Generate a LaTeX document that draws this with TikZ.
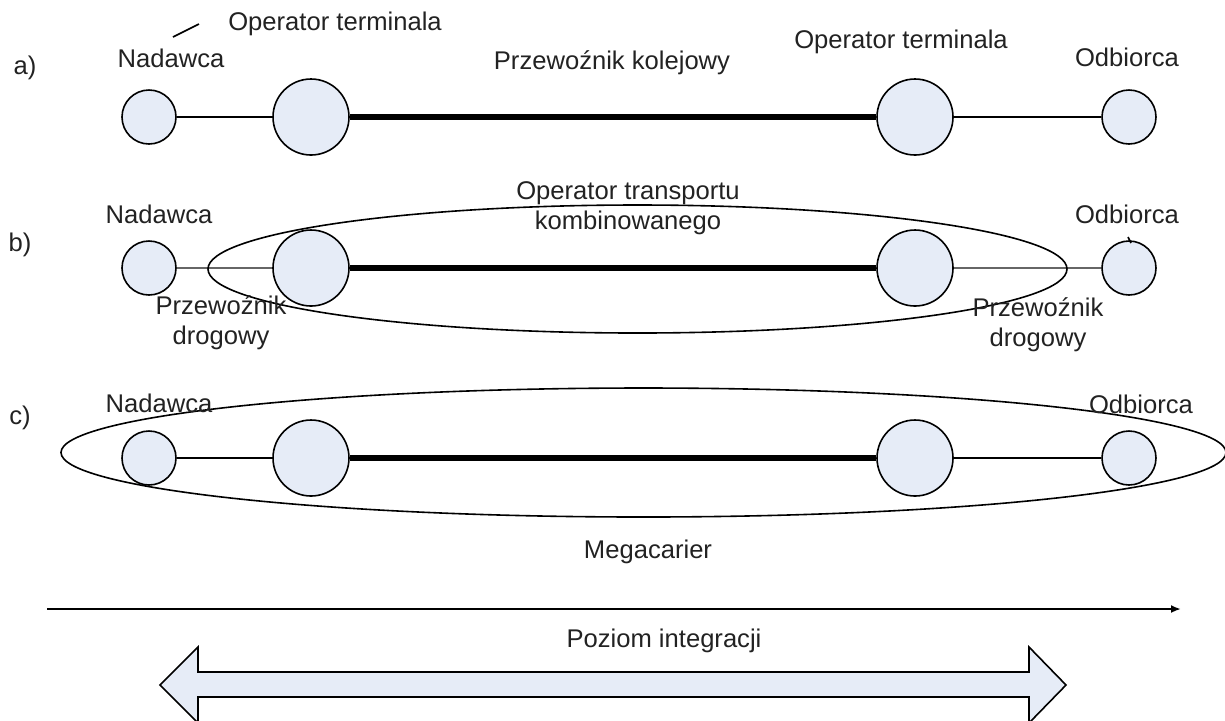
\documentclass[tikz,border=0pt]{standalone}
\usepackage{fontspec}
\setmainfont{Liberation Sans}
\usetikzlibrary{arrows.meta}
\definecolor{nodefill}{RGB}{230,236,247}
\definecolor{txt}{RGB}{34,34,34}
\begin{document}
\begin{tikzpicture}[x=0.5pt,y=-0.5pt,
  smallnode/.style={circle,draw,line width=0.8pt,fill=nodefill,minimum size=27pt,inner sep=0pt},
  bignode/.style={circle,draw,line width=0.8pt,fill=nodefill,minimum size=38pt,inner sep=0pt},
  linkthin/.style={line width=0.8pt},
  linkgrey/.style={line width=0.9pt,draw=black!60},
  linkrail/.style={line width=2.6pt},
  ringline/.style={line width=0.8pt},
  lbl/.style={font=\fontsize{12.8}{15}\selectfont,text=txt,inner sep=0pt,align=center}]
\useasboundingbox (0,0) rectangle (1225,720);
\clip (0,0) rectangle (1225,720);

% ---- row a ----
\node[smallnode] (a1) at (149,117) {};
\node[bignode]   (a2) at (311,117) {};
\node[bignode]   (a3) at (915,117) {};
\node[smallnode] (a4) at (1129,117) {};
\draw[linkthin] (a1) -- (a2);
\draw[linkrail] (a2) -- (a3);
\draw[linkthin] (a3) -- (a4);

\node[lbl] (la)  at (25,68)   {a)};
\node[lbl] (na)  at (171,58)  {Nadawca};
\node[lbl] (ota) at (335,24)  {Operator terminala};
\coordinate (cla) at (173,37);
\coordinate (clb) at (199,24);
\draw[linkthin] (cla) -- (clb);
\node[lbl] (pk)  at (612,63)  {Przewoźnik kolejowy};
\node[lbl] (otb) at (901,42)  {Operator terminala};
\node[lbl] (oa)  at (1127,57) {Odbiorca};

% ---- row b ----
\node[smallnode] (b1) at (149,268) {};
\node[bignode]   (b2) at (311,268) {};
\node[bignode]   (b3) at (915,268) {};
\node[smallnode] (b4) at (1129,268) {};
\draw[linkgrey] (b1) -- (b2);
\draw[linkrail] (b2) -- (b3);
\draw[linkgrey] (b3) -- (b4);
\draw[ringline] (637.5,269) ellipse [x radius=429.5, y radius=64];

\node[lbl] (lb)  at (20,245)  {b)};
\node[lbl] (nb)  at (159,214) {Nadawca};
\node[lbl] (otk) at (628,208) {Operator transportu\\kombinowanego};
\node[lbl] (ob)  at (1127,214) {Odbiorca};
\coordinate (tka) at (1128,237);
\coordinate (tkb) at (1131,243);
\draw[linkthin] (tka) -- (tkb);
\node[lbl] (pdl) at (221,323) {Przewoźnik\\drogowy};
\node[lbl] (pdr) at (1038,325) {Przewoźnik\\drogowy};

% ---- row c ----
\node[smallnode] (c1) at (149,458) {};
\node[bignode]   (c2) at (311,458) {};
\node[bignode]   (c3) at (915,458) {};
\node[smallnode] (c4) at (1129,458) {};
\draw[linkthin] (c1) -- (c2);
\draw[linkrail] (c2) -- (c3);
\draw[linkthin] (c3) -- (c4);
\draw[ringline] (643.5,452.5) ellipse [x radius=582.5, y radius=64.5];

\node[lbl] (lc)  at (20,418)  {c)};
\node[lbl] (nc)  at (159,403) {Nadawca};
\node[lbl] (oc)  at (1141,404) {Odbiorca};
\node[lbl] (mc)  at (648,552) {Megacarier};

% ---- axis ----
\coordinate (ax1) at (47,609);
\coordinate (ax2) at (1181,609);
\draw[line width=1pt,-{Latex[length=5pt,width=4pt]}] (ax1) -- (ax2);

% ---- double arrow ----
\draw[line width=0.8pt,fill=nodefill]
  (160,685) -- (198,647) -- (198,672) -- (1029,672) -- (1029,647) -- (1066,685)
  -- (1029,723) -- (1029,697) -- (198,697) -- (198,723) -- cycle;
\node[lbl] (pi) at (664,641) {Poziom integracji};
\end{tikzpicture}
\end{document}
